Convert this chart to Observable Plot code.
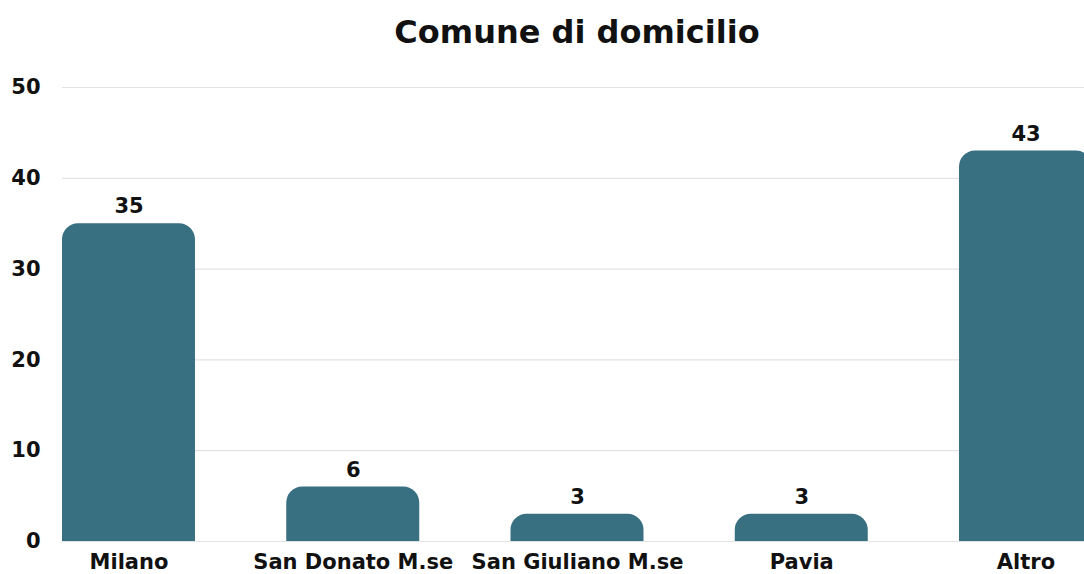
<!DOCTYPE html>
<html><head><meta charset="utf-8">
<script src="https://cdn.jsdelivr.net/npm/d3@7"></script>
<script src="https://cdn.jsdelivr.net/npm/@observablehq/plot@0.6"></script>
<style>
html,body{margin:0;padding:0;background:#fff;overflow:hidden;width:1084px;height:574px}
#title{height:64px;line-height:64px;text-align:center;font-family:"DejaVu Sans",sans-serif;font-weight:bold;font-size:32px;color:#111;width:1084px;padding-left:70px;box-sizing:border-box}
#chart svg{max-width:none !important;display:block}
</style></head><body>
<div id="title">Comune di domicilio</div>
<div id="chart"></div>
<script>
const categories = ["Milano", "San Donato M.se", "San Giuliano M.se", "Pavia", "Altro"];
const values = [35, 6, 3, 3, 43];
const yTicks = [0, 10, 20, 30, 40, 50];
const data = categories.map((c, i) => ({cat: c, value: values[i]}));
const font = "DejaVu Sans, sans-serif";
const chart = Plot.plot({
  width: 1092, height: 510,
  marginLeft: 62, marginRight: 0, marginTop: 23, marginBottom: 33,
  style: {fontFamily: font, fontSize: "21px", fontWeight: "bold", color: "#111", background: "transparent", overflow: "visible", maxWidth: "none"},
  x: {domain: categories, paddingInner: 0.407, paddingOuter: 0, round: false, label: null, tickSize: 0, tickPadding: 13},
  y: {domain: [0, 50], ticks: yTicks, label: null, tickSize: 0, tickPadding: 22},
  marks: [
    Plot.gridY(yTicks, {stroke: "#e3e3e3", strokeOpacity: 1, strokeWidth: 1.2}),
    Plot.barY(data, {x: "cat", y: "value", fill: "#386f81", ry1: 16, rx1y1: 16, rx2y1: 16}),
    Plot.text(data, {x: "cat", y: "value", text: d => String(d.value), dy: -17, fontSize: 21, fontWeight: "bold", fill: "#111"})
  ]
});
document.getElementById("chart").appendChild(chart);
</script>
</body></html>
